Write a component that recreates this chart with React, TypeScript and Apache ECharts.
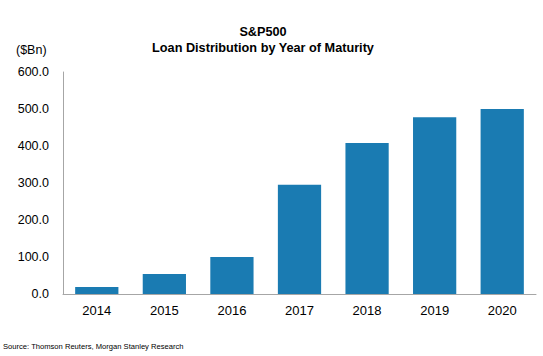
import React, { useEffect, useRef } from "react";
import * as echarts from "echarts";

const years = ["2014", "2015", "2016", "2017", "2018", "2019", "2020"];
const loans = [19, 54, 100, 295, 408, 478, 500];
const titleLines = ["S&P500", "Loan Distribution by Year of Maturity"];
const unitLabel = "($Bn)";
const sourceText = "Source: Thomson Reuters, Morgan Stanley Research";

const FONT = "Liberation Sans, Arial, sans-serif";

export default function App() {
  const ref = useRef<HTMLDivElement>(null);
  useEffect(() => {
    if (!ref.current) return;
    const chart = echarts.init(ref.current, undefined, { renderer: "svg" });
    chart.setOption({
      animation: false,
      backgroundColor: "#ffffff",
      graphic: [
        {
          type: "text",
          x: 263,
          y: 32,
          style: {
            text: titleLines[0],
            fontFamily: FONT,
            fontWeight: "bold",
            fontSize: 12.7,
            fill: "#000",
            textAlign: "center",
            textVerticalAlign: "middle",
          },
        },
        {
          type: "text",
          x: 263,
          y: 48,
          style: {
            text: titleLines[1],
            fontFamily: FONT,
            fontWeight: "bold",
            fontSize: 12.7,
            fill: "#000",
            textAlign: "center",
            textVerticalAlign: "middle",
          },
        },
        {
          type: "text",
          x: 16,
          y: 50,
          style: {
            text: unitLabel,
            fontFamily: FONT,
            fontSize: 12.5,
            fill: "#000",
            textAlign: "left",
            textVerticalAlign: "middle",
          },
        },
        {
          type: "text",
          x: 3,
          y: 346,
          style: {
            text: sourceText,
            fontFamily: FONT,
            fontSize: 7.6,
            fill: "#000",
            textAlign: "left",
            textVerticalAlign: "middle",
          },
        },
      ],
      grid: { left: 63, right: 7, top: 72, bottom: 62 },
      xAxis: {
        type: "category",
        data: years,
        axisLine: { show: true, lineStyle: { color: "#a6a6a6", width: 1 } },
        axisTick: { show: false },
        axisLabel: {
          color: "#000",
          fontFamily: FONT,
          fontSize: 13,
          margin: 10,
        },
      },
      yAxis: {
        type: "value",
        min: 0,
        max: 600,
        interval: 100,
        splitLine: { show: false },
        axisLine: { show: true, lineStyle: { color: "#a6a6a6", width: 1 } },
        axisTick: { show: false },
        axisLabel: {
          color: "#000",
          fontFamily: FONT,
          fontSize: 12.5,
          margin: 14,
          formatter: (v: number) => v.toFixed(1),
        },
      },
      series: [
        {
          type: "bar",
          data: loans,
          barCategoryGap: "36%",
          itemStyle: { color: "#1a7bb2" },
        },
      ],
    });
    return () => chart.dispose();
  }, []);
  return (
    <div
      ref={ref}
      style={{ position: "fixed", left: 0, top: 0, width: 543, height: 356 }}
    />
  );
}
